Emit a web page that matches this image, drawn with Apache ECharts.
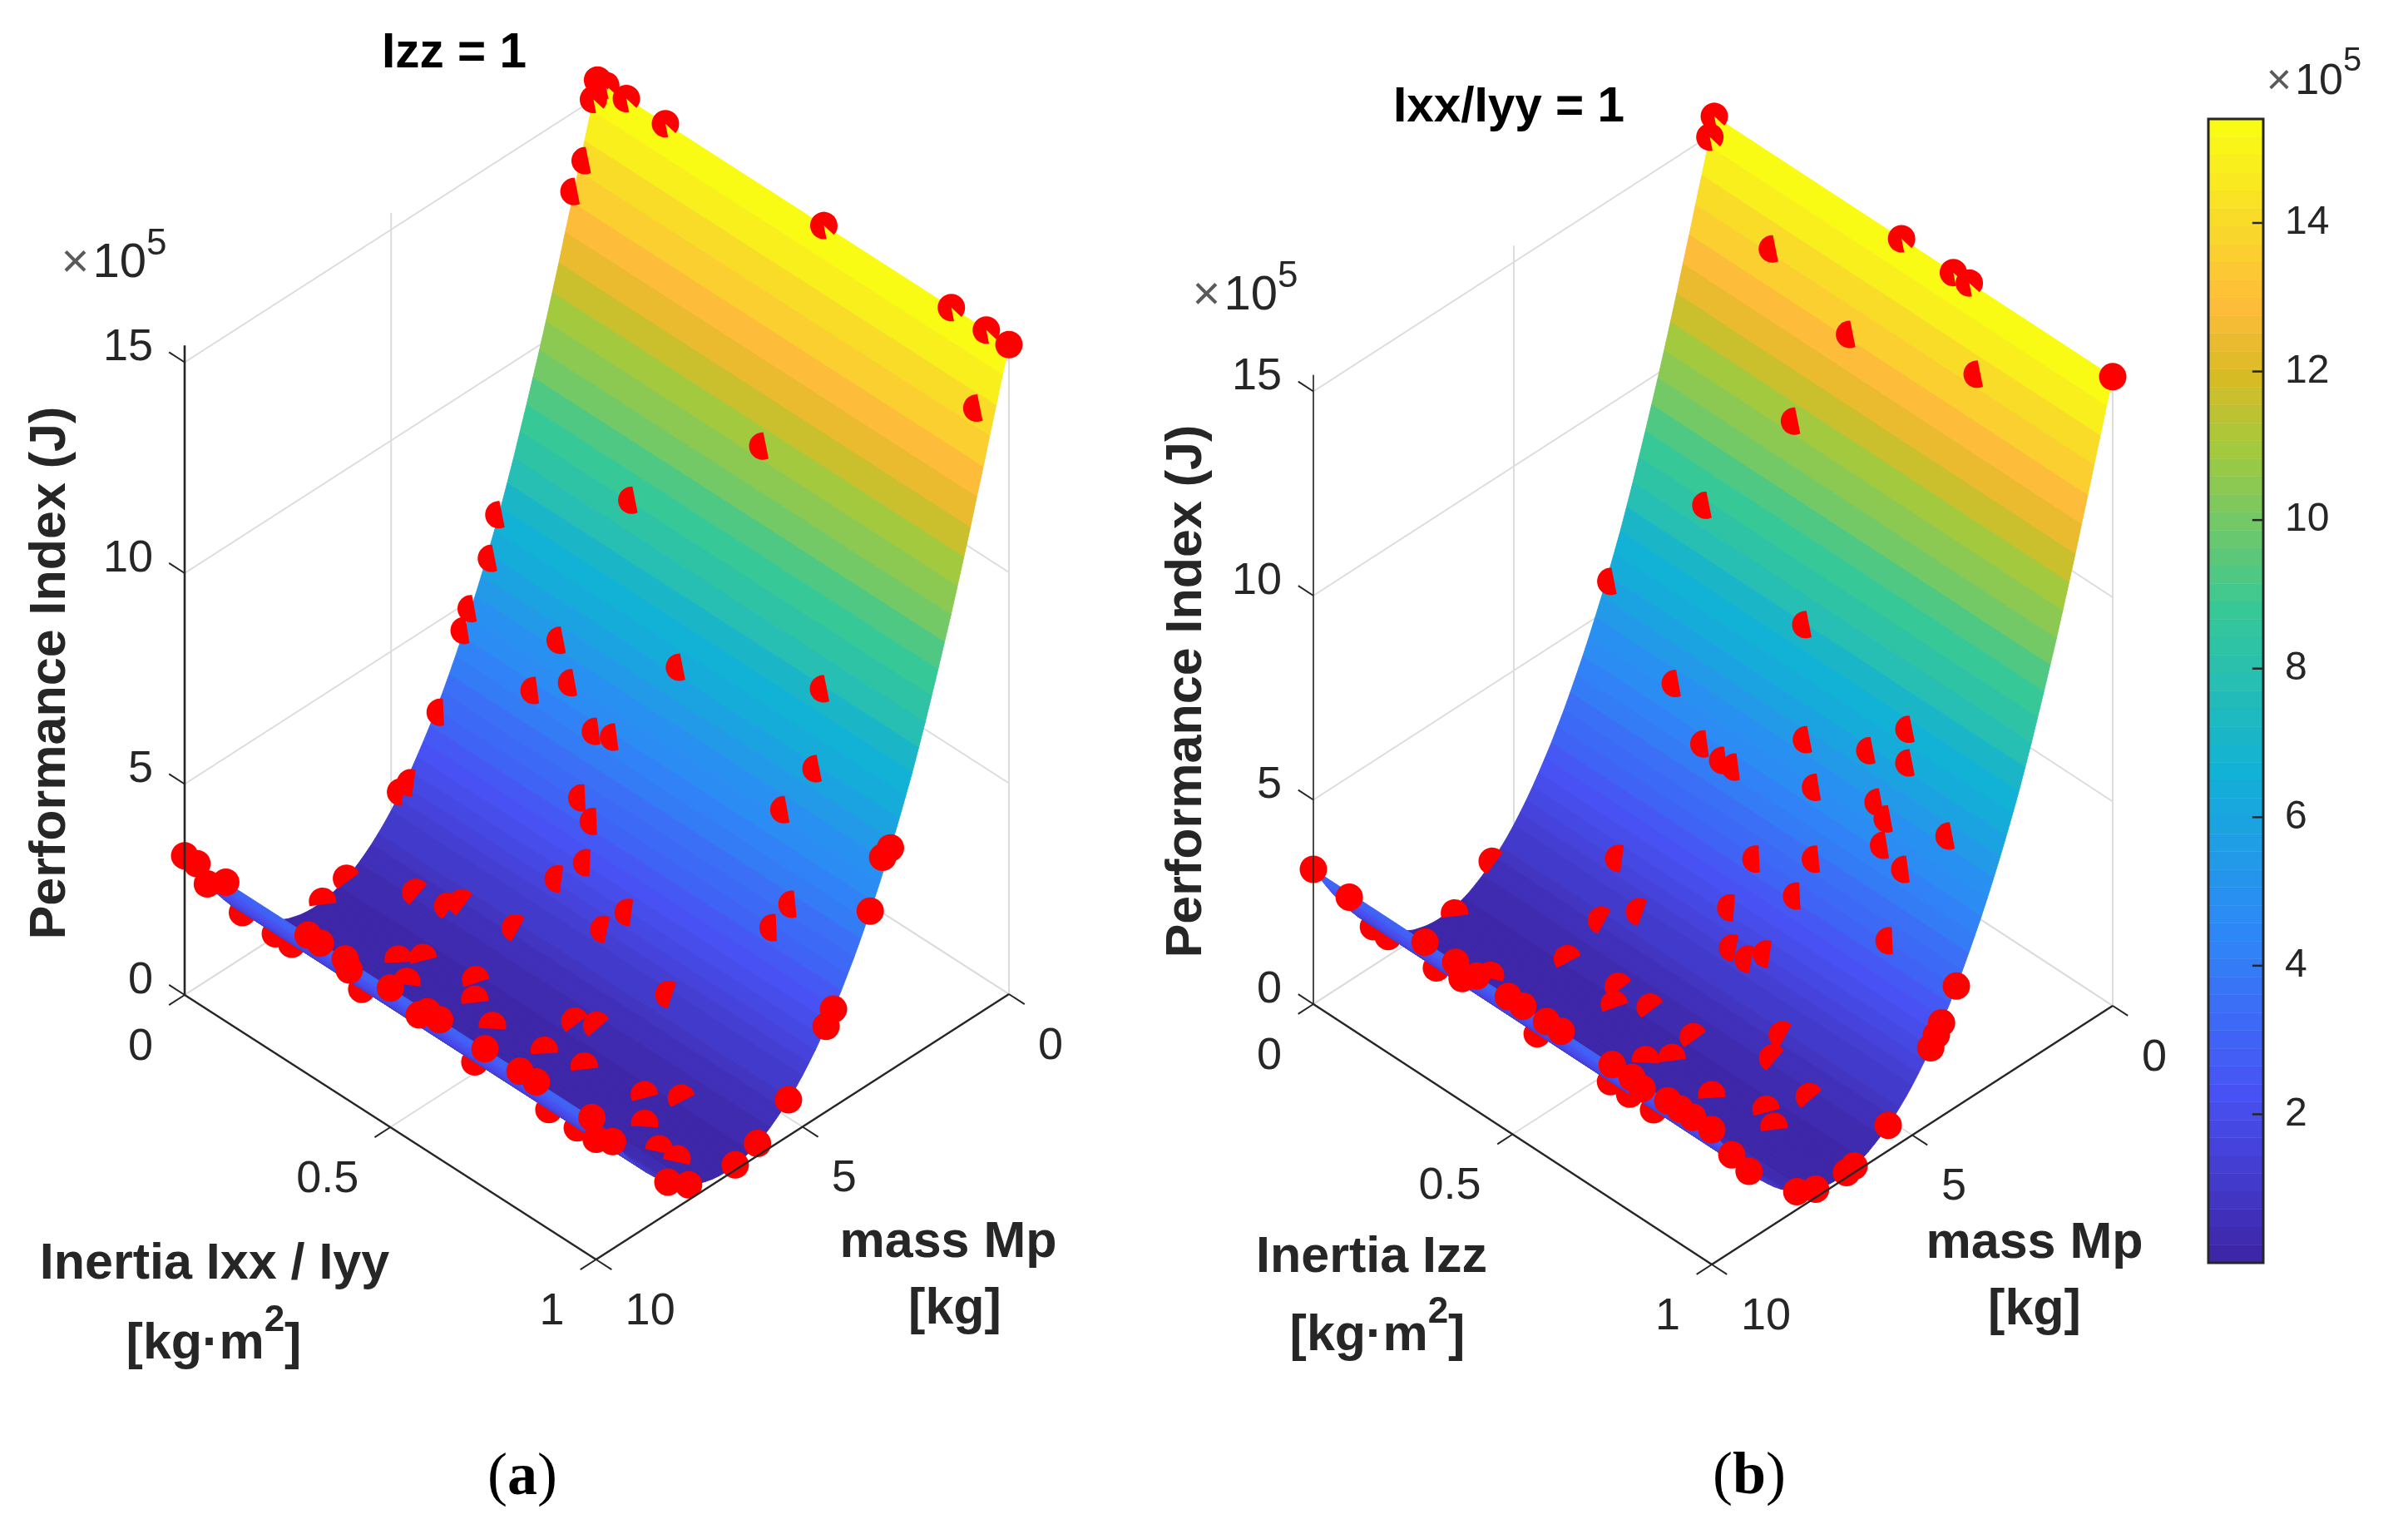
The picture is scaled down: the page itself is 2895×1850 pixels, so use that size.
<!DOCTYPE html>
<html>
<head>
<meta charset="utf-8">
<title>Performance index surfaces</title>
<style>html,body{margin:0;padding:0;background:#fff}#main{width:2895px;height:1850px}</style>
<script src="https://cdn.jsdelivr.net/npm/echarts@6/dist/echarts.min.js"></script>
</head>
<body>
<div id="main"></div>
<script>
// Performance index (x10^5 J) sampled along the payload mass; it does not vary with inertia.
const massSamples = [0,0.15625,0.3125,0.46875,0.625,0.78125,0.9375,1.09375,1.25,1.40625,1.5625,1.71875,1.875,2.03125,2.1875,2.34375,2.5,2.65625,2.8125,2.96875,3.125,3.28125,3.4375,3.59375,3.75,3.90625,4.0625,4.21875,4.375,4.53125,4.6875,4.84375,5,5.15625,5.3125,5.46875,5.625,5.78125,5.9375,6.09375,6.25,6.40625,6.5625,6.71875,6.875,7.03125,7.1875,7.34375,7.5,7.65625,7.8125,7.96875,8.125,8.28125,8.4375,8.59375,8.75,8.90625,9.0625,9.21875,9.375,9.53125,9.6875,9.84375,10];
const performanceIndex = [15.4,14.78,14.15,13.53,12.89,12.28,11.65,11.05,10.46,9.88,9.33,8.78,8.25,7.72,7.22,6.73,6.28,5.84,5.42,5.02,4.63,4.26,3.91,3.57,3.24,2.94,2.64,2.37,2.11,1.86,1.63,1.42,1.22,1.04,0.88,0.73,0.6,0.48,0.38,0.29,0.22,0.17,0.13,0.11,0.1,0.11,0.135,0.18,0.23,0.31,0.39,0.5,0.62,0.76,0.91,1.08,1.26,1.46,1.68,1.91,2.16,2.42,2.7,2.99,3.3];

const inertiaTicks = [0, 0.5, 1];
const massTicks = [0, 5, 10];
const performanceTicks = [0, 5, 10, 15];
const colorbarTicks = [2, 4, 6, 8, 10, 12, 14];

// Optimisation results as [mass, inertia]; each one lies on the surface.
const resultsIzzFixed = [
[0,0],[0,0.02],[0.1,0],[0,0.07],[0,0.165],[0.4,0.01],[0.57,0],[0,0.55],[0,0.86],[0,0.945],[0,1],[0.38,0.96],
[1.18,0.52],[1.86,0.27],[2.39,0],[2.67,0.01],[3.06,0],[3.23,0],[2.9,0.2],[2.6,0.46],[3.33,0.18],[3.12,0.25],
[3.91,0.01],[3.34,0.33],[3.3,0.37],[4.63,0.01],[4.77,0],[3.87,0.35],[3.99,0.39],[4.35,0.41],[4.64,0.37],
[6.08,0],[6.66,0],[5.7,0.13],[5.62,0.2],[5.48,0.22],[5.38,0.34],[4.54,0.53],[4.83,0.5],[5.05,0.68],
[10,0],[10,0.03],[9.45,0],[10,0.1],[8.8,0.02],[8.8,0.1],[8.8,0.14],[10,0.3],[10,0.33],[10,0.39],[9.7,0.37],
[6.82,0.2],[6.52,0.23],[8.8,0.31],[10,0.5],[7.16,0.255],[6.34,0.34],[6.66,0.37],[9.7,0.54],[10,0.59],[10,0.62],
[6.93,0.44],[6.03,0.55],[5.9,0.59],[10,0.73],[6.77,0.55],[6.6,0.63],[10,0.815],[10,0.855],[8.8,0.585],[8.8,0.765],
[6.44,0.76],[6.14,0.82],[6.93,0.81],[10,0.99],[9,0.9],[9.6,1],[8.8,0.834],[7.28,0.88],[7.24,0.92],
[8.26,1],[7.76,1],[6.63,1],[6.09,1],[5.34,1],[4.25,1],[4.43,1],[2.87,1],[2.96,0.99],[3.36,1],
[3.66,0.84],[3.92,0.82],[3.06,0.76],[2.68,0.8],[2.2,0.77]
];
const resultsIxxFixed = [
[0,0],[0.11,0],[0,0.47],[0,0.6],[0,0.64],[0,1],[0.44,0.19],[0.6,0.4],[0.4,0.7],[1.18,0.32],[1.9,0.17],[2.68,0.01],
[2.19,0.45],[3.06,0.21],[3.34,0.31],[2.87,0.52],[2.68,0.66],[2.4,0.73],[3.37,0.36],[3.36,0.39],[2.6,0.75],[3.14,0.57],
[2.97,0.71],[3.04,0.74],[3.23,0.75],[2.89,0.88],[3.3,0.81],[3.64,0.62],[3.93,0.5],[4.67,0.23],[5.54,0],[3.89,0.83],
[4.01,0.61],[4.46,0.49],[5.05,0.32],[5.4,0.26],[6.58,0.01],[4.81,0.53],[4.66,0.6],[4.82,0.57],[6.15,0.25],[10,0.28],
[10,0],[9.85,0.075],[8.8,0.03],[8.8,0.067],[8.8,0.188],[10,0.357],[9.5,0.323],[10,0.41],[7.37,0.18],[10,0.489],[10,0.526],
[8.8,0.441],[10,0.585],[10,0.622],[6.07,0.37],[6.37,0.39],[6.07,0.45],[6.09,0.56],[5.36,0.71],[5.7,0.72],
[3.9,1],[4.27,1],[4.4,1],[4.54,1],[10,0.75],[6.98,0.53],[6.62,0.56],[10,0.8],[9.85,0.81],[8.8,0.625],[8.8,0.673],
[10,0.889],[10,0.92],[6.82,0.68],[10,0.952],[10,1],[8.8,0.733],[6.46,0.78],[5.88,0.83],[6.66,0.82],[5.6,1],
[9.5,1],[9.07,1],[7.88,1],[7.41,1],[6.45,1],[6.64,1]
];

// Colour map anchors as [position, r, g, b].
const parulaStops = [
  [0,62,38,168],[0.143,72,82,244],[0.286,46,135,247],[0.429,18,177,214],[0.571,55,200,151],
  [0.714,163,201,63],[0.779,216,187,37],[0.844,255,188,58],[0.909,249,216,43],[1,249,251,21]
];
const colorLevels = 64;
const colorMin = 0.03;
const colorMax = 15.4;
const performanceMax = 15.4;

const INK = '#262626';
const GRID = '#dcdcdc';
const SANS = '"Liberation Sans", Arial, sans-serif';
const SERIF = '"Liberation Serif", "Times New Roman", serif';

// Oblique projection of each 3D box onto the page.
const panels = [
  { origin:[222,1196], inertiaVec:[494.6,318], massVec:[496.4,-319], jUnit:50.7, jAxisWidth:2.6, results:resultsIzzFixed },
  { origin:[1579,1207], inertiaVec:[479,313], massVec:[482,-311], jUnit:49.1, jAxisWidth:1.6, results:resultsIxxFixed }
];

function project(p, mass, inertia, j) {
  const u = (10 - mass) / 10;
  return [
    p.origin[0] + p.inertiaVec[0] * inertia + p.massVec[0] * u,
    p.origin[1] + p.inertiaVec[1] * inertia + p.massVec[1] * u - p.jUnit * j
  ];
}

function parula(t) {
  const v = Math.max(0, Math.min(1, t));
  let k = 0;
  while (k < parulaStops.length - 2 && parulaStops[k + 1][0] < v) k++;
  const a = parulaStops[k], b = parulaStops[k + 1];
  const f = (v - a[0]) / (b[0] - a[0]);
  return 'rgb(' + [1,2,3].map(n => Math.round(a[n] + (b[n] - a[n]) * f)).join(',') + ')';
}
function levelColor(level) { return parula(level / (colorLevels - 1)); }
function colorOf(j) {
  const level = Math.floor((j - colorMin) / (colorMax - colorMin) * colorLevels);
  return levelColor(Math.max(0, Math.min(colorLevels - 1, level)));
}

// Height of the surface at a mass.
const massStep = massSamples[1] - massSamples[0];
function surfaceAt(mass) {
  const s = Math.min(massSamples.length - 1.0001, mass / massStep);
  const k = Math.floor(s), f = s - k;
  return performanceIndex[k] + (performanceIndex[k + 1] - performanceIndex[k]) * f;
}
function surfaceSlope(mass) {
  const k = Math.min(massSamples.length - 2, Math.floor(mass / massStep));
  return (performanceIndex[k + 1] - performanceIndex[k]) / massStep;
}

const markerRadius = 16.5;
const RED = '#ff0000';

// A marker is cut where the surface passes through it: the kept side faces the surface normal.
function markerShape(mass, inertia, cx, cy) {
  const r = markerRadius;
  if (mass >= 8.2 || inertia >= 0.97) return { type:'circle', shape:{ cx, cy, r }, style:{ fill:RED } };
  const g = -surfaceSlope(mass) * 0.946;
  const right = -0.707 * g;
  const up = Math.max(0.766 - 0.4545 * g, -0.2 * Math.abs(right));
  const a = Math.atan2(-up, right);
  if (mass <= 0.15) {
    const s = a - Math.PI / 2;
    return { type:'sector', shape:{ cx, cy, r0:0, r, startAngle:s, endAngle:s + Math.PI * 1.8, clockwise:true }, style:{ fill:RED } };
  }
  // Slightly more than half of the disc stays in front of the surface.
  const span = Math.PI / 2 + 0.24;
  const points = [];
  for (let n = 0; n <= 28; n++) {
    const t = a - span + 2 * span * n / 28;
    points.push([cx + r * Math.cos(t), cy + r * Math.sin(t)]);
  }
  return { type:'polygon', shape:{ points }, style:{ fill:RED } };
}

const series = [];
const axisRef = { xAxisIndex:0, yAxisIndex:0, coordinateSystem:'cartesian2d', animation:false, silent:true, clip:false, type:'custom', encode:{ x:0, y:1 } };

panels.forEach((p) => {
  // Box grid: walls and floor.
  const gridSegments = [];
  performanceTicks.forEach(j => {
    gridSegments.push([10,0,j,0,0,j]);
    gridSegments.push([0,0,j,0,1,j]);
  });
  massTicks.forEach(m => {
    gridSegments.push([m,0,0,m,1,0]);
    gridSegments.push([m,0,0,m,0,performanceMax]);
  });
  inertiaTicks.forEach(i => {
    gridSegments.push([10,i,0,0,i,0]);
    gridSegments.push([0,i,0,0,i,performanceMax]);
  });
  series.push(Object.assign({}, axisRef, {
    z: 1, data: gridSegments,
    renderItem(params, api) {
      const a = api.coord(project(p, api.value(0), api.value(1), api.value(2)));
      const b = api.coord(project(p, api.value(3), api.value(4), api.value(5)));
      return { type:'line', shape:{ x1:a[0], y1:a[1], x2:b[0], y2:b[1] }, style:{ stroke:GRID, lineWidth:2 } };
    }
  }));

  // Surface facets, far side first; the front lip folds back over the valley.
  const facets = massSamples.slice(0, -1).map((m, k) => [m, massSamples[k + 1], performanceIndex[k], performanceIndex[k + 1]]);
  const facetRender = (params, api) => {
    const m0 = api.value(0), m1 = api.value(1), j0 = api.value(2), j1 = api.value(3);
    const pts = [project(p,m0,0,j0), project(p,m0,1,j0), project(p,m1,1,j1), project(p,m1,0,j1)].map(q => api.coord(q));
    const fill = colorOf(j0);
    return { type:'polygon', shape:{ points:pts }, style:{ fill, stroke:fill, lineWidth:1 } };
  };
  series.push(Object.assign({}, axisRef, { z:2, data:facets.filter(f => f[0] < 8.75), renderItem:facetRender }));
  series.push(Object.assign({}, axisRef, { z:5, data:facets.filter(f => f[0] >= 8.75), renderItem:facetRender }));

  // Result markers in three depth layers around the fold of the surface.
  const markerRender = (params, api) => {
    const m = api.value(0), i = api.value(1);
    const c = api.coord(project(p, m, i, surfaceAt(m)));
    return markerShape(m, i, c[0], c[1]);
  };
  const inFront = r => r[0] >= 8.9 || r[1] >= 0.97;
  const tucked = r => !inFront(r) && r[0] >= 8.2;
  series.push(Object.assign({}, axisRef, { z:3, data:p.results.filter(r => !inFront(r) && !tucked(r)), renderItem:markerRender }));
  series.push(Object.assign({}, axisRef, { z:4, data:p.results.filter(tucked), renderItem:markerRender }));
  series.push(Object.assign({}, axisRef, { z:6, data:p.results.filter(inFront), renderItem:markerRender }));

  // Axis lines and tick marks.
  const axisSegments = [
    [10,0,0,10,0,performanceMax,p.jAxisWidth],
    [10,0,0,10,1,0,2.4],
    [10,1,0,0,1,0,2.4]
  ];
  performanceTicks.forEach(j => axisSegments.push([10,0,j,10,-0.038,j,2]));
  inertiaTicks.forEach(i => axisSegments.push([10,i,0,10.38,i,0,2]));
  massTicks.forEach(m => axisSegments.push([m,1,0,m,1.038,0,2]));
  series.push(Object.assign({}, axisRef, {
    z: 7, data: axisSegments,
    renderItem(params, api) {
      const a = api.coord(project(p, api.value(0), api.value(1), api.value(2)));
      const b = api.coord(project(p, api.value(3), api.value(4), api.value(5)));
      return { type:'line', shape:{ x1:a[0], y1:a[1], x2:b[0], y2:b[1] }, style:{ stroke:INK, lineWidth:api.value(6) } };
    }
  }));

  // Tick labels, set off from the tick on the page.
  const tickFont = '54px ' + SANS;
  const tickLabel = (anchor, text, dx, dy, align) => ({
    type:'text', style:{ x:anchor[0] + dx, y:anchor[1] + dy, text, font:tickFont, fill:INK, align, verticalAlign:'middle' }
  });
  series.push(Object.assign({}, axisRef, {
    z: 7, data: performanceTicks.map(j => [j]),
    renderItem(params, api) { const j = api.value(0); return tickLabel(api.coord(project(p,10,0,j)), String(j), -38, -17, 'right'); }
  }));
  series.push(Object.assign({}, axisRef, {
    z: 7, data: inertiaTicks.map(i => [i]),
    renderItem(params, api) { const i = api.value(0); return tickLabel(api.coord(project(p,10,i,0)), String(i), -38, 63, 'right'); }
  }));
  series.push(Object.assign({}, axisRef, {
    z: 7, data: massTicks.map(m => [m]),
    renderItem(params, api) { const m = api.value(0); return tickLabel(api.coord(project(p,m,1,0)), String(m), 35, 63, 'left'); }
  }));
});

// Colour bar cells, frame and tick marks.
const colorbarCells = Array.from({ length: colorLevels }, (_, k) => [
  colorMax * k / colorLevels,
  colorMax * (k + 1) / colorLevels,
  k
]);
series.push({
  type:'custom', coordinateSystem:'cartesian2d', xAxisIndex:1, yAxisIndex:1, animation:false, silent:true, z:2,
  encode:{ y:[0,1] }, data:colorbarCells,
  renderItem(params, api) {
    const a = api.coord([0, api.value(0)]), b = api.coord([1, api.value(1)]);
    const fill = levelColor(api.value(2));
    return { type:'rect', shape:{ x:a[0], y:b[1], width:b[0]-a[0], height:a[1]-b[1] }, style:{ fill, stroke:fill, lineWidth:0.5 } };
  }
});
series.push({
  type:'custom', coordinateSystem:'cartesian2d', xAxisIndex:1, yAxisIndex:1, animation:false, silent:true, z:3,
  encode:{ y:0 }, data:colorbarTicks.map(v => [v]),
  renderItem(params, api) {
    const a = api.coord([0.8, api.value(0)]), b = api.coord([1, api.value(0)]);
    return { type:'line', shape:{ x1:a[0], y1:a[1], x2:b[0], y2:b[1] }, style:{ stroke:INK, lineWidth:2.5 } };
  }
});
series.push({
  type:'custom', coordinateSystem:'cartesian2d', xAxisIndex:1, yAxisIndex:1, animation:false, silent:true, z:4,
  data:[[0,0]],
  renderItem(params) {
    const s = params.coordSys;
    return { type:'rect', shape:{ x:s.x, y:s.y, width:s.width, height:s.height }, style:{ fill:'none', stroke:INK, lineWidth:3 } };
  }
});

function sheetText(x, y, text, font, extra, fill) {
  return Object.assign({ type:'text', x, y, silent:true, z:20, style:{ text, font, fill:fill || INK, align:'center', verticalAlign:'middle' } }, extra || {});
}
const labelFont = 'bold 61px ' + SANS;
const titleFont = 'bold 58.5px ' + SANS;
function exponentLabel(x, y, size) {
  return { type:'text', x, y, silent:true, z:20, style:{
    text:'{x|×}{n|10}{s|5}', align:'center', verticalAlign:'middle', fill:INK,
    rich:{
      x:{ font:size + 'px ' + SANS, fill:'#5a5a5a', lineHeight:90, verticalAlign:'middle', padding:[0,4,0,0] },
      n:{ font:size + 'px ' + SANS, fill:INK, lineHeight:90, verticalAlign:'middle' },
      s:{ font:Math.round(size * 0.76) + 'px ' + SANS, fill:INK, lineHeight:90, verticalAlign:'top' }
    }
  } };
}
function unitLabel(x, y) {
  return { type:'text', x, y, silent:true, z:20, style:{
    text:'{b|[kg·m}{s|2}{b|]}', align:'center', verticalAlign:'middle', fill:INK,
    rich:{ b:{ font:labelFont, fill:INK, lineHeight:100, verticalAlign:'middle' },
           s:{ font:'bold 44px ' + SANS, fill:INK, lineHeight:100, verticalAlign:'top' } }
  } };
}
function captionLabel(x, y, letter) {
  return { type:'text', x, y, silent:true, z:20, style:{
    text:'{r|(}{b|' + letter + '}{r|)}', align:'center', verticalAlign:'middle', fill:'#000',
    rich:{ r:{ font:'72px ' + SERIF, fill:'#000' }, b:{ font:'bold 72px ' + SERIF, fill:'#000' } }
  } };
}

const sheetLabels = [
  sheetText(546, 65, 'Izz = 1', titleFont, null, '#000'),
  sheetText(1814, 130, 'Ixx/Iyy = 1', titleFont, null, '#000'),
  sheetText(61, 809, 'Performance Index (J)', labelFont, { rotation:Math.PI / 2 }),
  sheetText(1427, 831, 'Performance Index (J)', labelFont, { rotation:Math.PI / 2 }),
  sheetText(258, 1520, 'Inertia Ixx / Iyy', labelFont),
  unitLabel(257, 1616),
  sheetText(1140, 1494, 'mass Mp', labelFont),
  sheetText(1148, 1574, '[kg]', labelFont),
  sheetText(1649, 1512, 'Inertia Izz', labelFont),
  unitLabel(1656, 1606),
  sheetText(2446, 1495, 'mass Mp', labelFont),
  sheetText(2446, 1575, '[kg]', labelFont),
  exponentLabel(137, 317, 58),
  exponentLabel(1497, 356, 58),
  exponentLabel(2782, 99, 52),
  captionLabel(628, 1777, 'a'),
  captionLabel(2103, 1776, 'b')
];

const option = {
  backgroundColor:'#ffffff',
  animation:false,
  grid:[
    { left:0, top:0, width:2895, height:1850, show:false },
    { left:2655, top:143, width:66, height:1375, show:false }
  ],
  xAxis:[
    { type:'value', gridIndex:0, min:0, max:2895, show:false },
    { type:'value', gridIndex:1, min:0, max:1, show:false }
  ],
  yAxis:[
    { type:'value', gridIndex:0, min:0, max:1850, inverse:true, show:false },
    { type:'value', gridIndex:1, position:'right', min:0, max:colorMax, interval:2,
      axisLine:{ show:false },
      axisTick:{ show:false },
      axisLabel:{ show:true, margin:26, color:INK, fontSize:48, fontFamily:'Liberation Sans',
        customValues:colorbarTicks },
      splitLine:{ show:false } }
  ],
  graphic:{ elements:sheetLabels },
  series
};

const chart = echarts.init(document.getElementById('main'), null, { renderer:'canvas', width:2895, height:1850 });
chart.setOption(option);
</script>
</body>
</html>
